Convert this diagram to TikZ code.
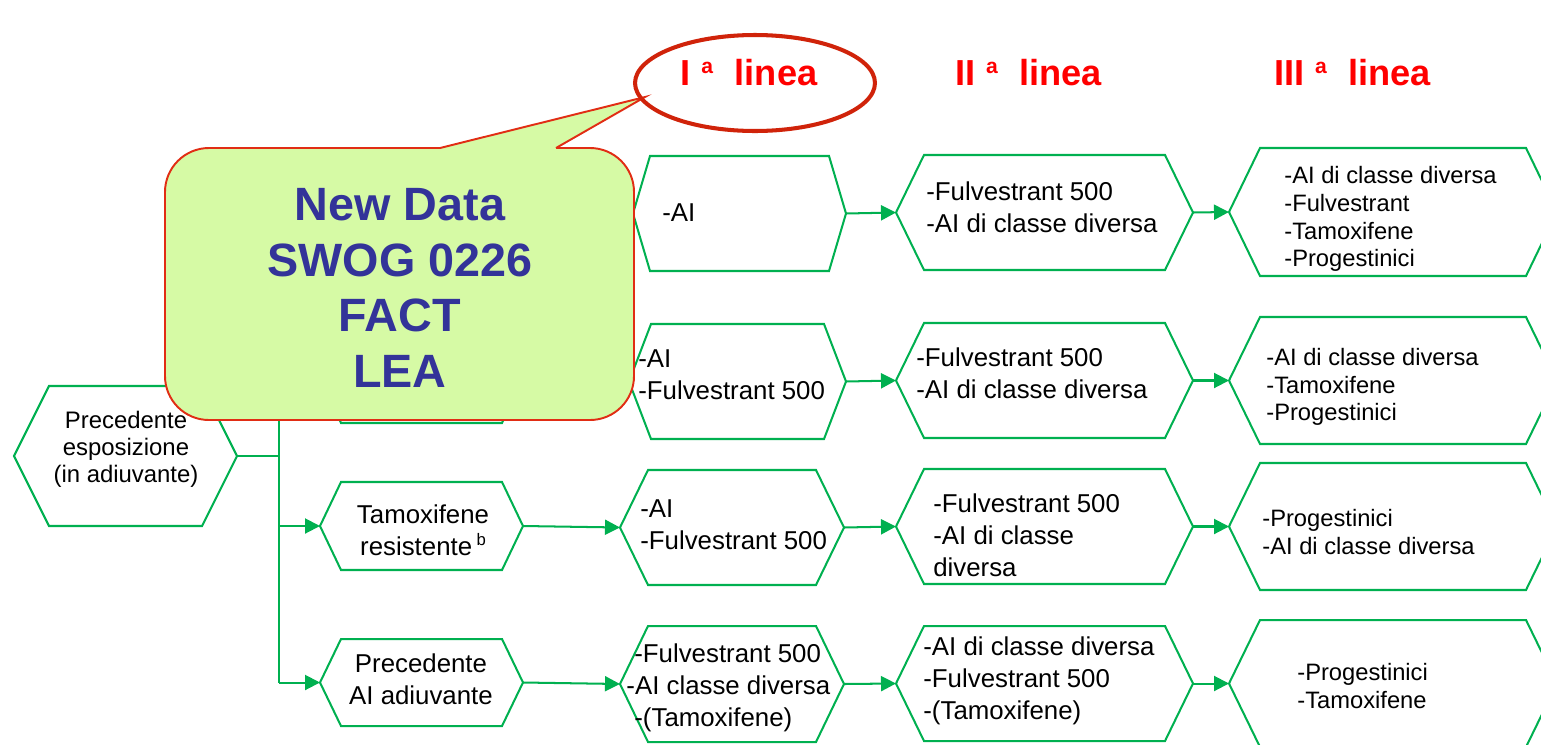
\documentclass[tikz,border=0pt]{standalone}
\usepackage{fontspec}
\setmainfont{Liberation Sans}
\usetikzlibrary{arrows.meta,calc,shapes.geometric}
\definecolor{hexgreen}{RGB}{0,176,80}
\definecolor{titlered}{RGB}{255,0,0}
\definecolor{ellred}{RGB}{208,35,10}
\definecolor{callred}{RGB}{225,45,20}
\definecolor{callfill}{RGB}{214,250,165}
\definecolor{callblue}{RGB}{51,51,153}
\tikzset{
  hexcore/.style={shape=rectangle, inner sep=0pt, outer sep=0pt, draw=none},
  hexline/.style={draw=hexgreen, line width=1.15pt, line join=miter},
  conn/.style={draw=hexgreen, line width=1.15pt},
  arr/.style={conn, -{Triangle[length=0.3cm, width=0.3cm]}},
  bodytxt/.style={font=\fontsize{14.7pt}{18.1pt}\selectfont, align=left, inner sep=0pt, anchor=west},
  smalltxt/.style={font=\fontsize{13.5pt}{15.8pt}\selectfont, align=left, inner sep=0pt, anchor=west},
  condtxt/.style={font=\fontsize{14.7pt}{18.1pt}\selectfont, align=center, inner sep=0pt},
  srctxt/.style={font=\fontsize{13.6pt}{15.3pt}\selectfont, align=center, inner sep=0pt},
  titletxt/.style={font=\fontsize{20.6pt}{24pt}\selectfont\bfseries, text=titlered, anchor=base west, inner sep=0pt},
  calltxt/.style={font=\fontsize{26.6pt}{31.7pt}\selectfont\bfseries, text=callblue, align=center, inner sep=0pt},
  calloutbox/.style={draw=callred, line width=1.1pt, fill=callfill},
  ellbox/.style={ellipse, draw=ellred, line width=2.3pt, inner sep=0pt}
}
\newcommand\hexnode[6]{%
  \node[hexcore, minimum width=#4*0.02cm, minimum height=#5*0.02cm] (#1) at (#2,#3) {};
  \draw[hexline] (#1.west) -- ($(#1.north west)+(#6,0)$) -- ($(#1.north east)+(-#6,0)$) -- (#1.east) -- ($(#1.south east)+(-#6,0)$) -- ($(#1.south west)+(#6,0)$) -- cycle;}
\newcommand\titlesupa{\raisebox{6.8pt}{\fontsize{12pt}{13pt}\selectfont a}}
\newcommand\condsupb{\raisebox{5.5pt}{\fontsize{9.5pt}{10pt}\selectfont b}}
\begin{document}
\begin{tikzpicture}[x=0.02cm, y=-0.02cm]
\useasboundingbox (0,0) rectangle (1541,744);
\clip (0,0) rectangle (1541,744);

% hexagons
\hexnode{src}{125.5}{456}{223}{140}{35}
\hexnode{cA}{421.5}{213}{203}{88}{21}
\hexnode{cB}{421.5}{379}{203}{88}{21}
\hexnode{cC}{421.5}{526}{203}{88}{21}
\hexnode{cD}{421.5}{682.5}{203}{87}{21}
\hexnode{fA}{739.5}{213.5}{213}{115}{17}
\hexnode{fB}{737.5}{381.5}{217}{115}{22}
\hexnode{fC}{732}{527.5}{224}{115}{28}
\hexnode{fD}{732}{684}{224}{116}{28}
\hexnode{sA}{1044.5}{212.5}{297}{115}{28}
\hexnode{sB}{1044.5}{380.5}{297}{115}{28}
\hexnode{sC}{1044.5}{526.5}{297}{115}{28}
\hexnode{sD}{1044.5}{683.5}{297}{115}{28}
\hexnode{tA}{1393}{212}{328}{128}{31}
\hexnode{tB}{1393}{380.5}{328}{127}{31}
\hexnode{tC}{1393}{526.5}{328}{127}{31}
\hexnode{tD}{1393}{683.5}{328}{127}{31}

% texts in hexagons
\node[srctxt] (srcT) at (126,449) {Precedente\\esposizione\\(in adiuvante)};
\node[condtxt] (cCT) at (423,530) {Tamoxifene\\resistente\,\condsupb};
\node[condtxt] (cDT) at (421,679) {Precedente\\AI adiuvante};
\node[bodytxt] (fAT) at (662,213) {-AI};
\node[bodytxt] (fBT) at (638,375) {-AI\\-Fulvestrant 500};
\node[bodytxt] (fCT) at (640,525) {-AI\\-Fulvestrant 500};
\node[bodytxt] (fDT) at (634,688) {-Fulvestrant 500\\\hspace*{-4.5pt}-AI classe diversa\\-(Tamoxifene)};
\node[bodytxt] (sAT) at (926,207) {-Fulvestrant 500\\-AI di classe diversa};
\node[bodytxt] (sBT) at (916,373) {-Fulvestrant 500\\-AI di classe diversa};
\node[bodytxt] (sCT) at (933,535) {-Fulvestrant 500\\-AI di classe\\diversa};
\node[bodytxt] (sDT) at (923,681) {-AI di classe diversa\\-Fulvestrant 500\\-(Tamoxifene)};
\node[smalltxt] (tAT) at (1284,219) {-AI di classe diversa\\-Fulvestrant\\-Tamoxifene\\-Progestinici};
\node[smalltxt] (tBT) at (1266,387) {-AI di classe diversa\\-Tamoxifene\\-Progestinici};
\node[smalltxt] (tCT) at (1262,532) {-Progestinici\\-AI di classe diversa};
\node[smalltxt] (tDT) at (1297,686) {-Progestinici\\-Tamoxifene};

% connectors
\coordinate (brS) at (279,456);
\coordinate (brA) at (279,213);
\coordinate (brD) at (279,683);
\draw[conn] (src.east) -- (brS);
\draw[conn] (brA) -- (brD);
\draw[arr] (brA) -- (cA.west);
\draw[arr] (cB.west -| brA) -- (cB.west);
\draw[arr] (cC.west -| brA) -- (cC.west);
\draw[arr] (cD.west -| brA) -- (cD.west);
\draw[arr] (cA.east) -- (fA.west);
\draw[arr] (cB.east) -- (fB.west);
\draw[arr] (cC.east) -- (fC.west);
\draw[arr] (cD.east) -- (fD.west);
\draw[arr] (fA.east) -- (sA.west);
\draw[arr] (fB.east) -- (sB.west);
\draw[arr] (fC.east) -- (sC.west);
\draw[arr] (fD.east) -- (sD.west);
\draw[arr] (sA.east) -- (tA.west);
\draw[arr] (sB.east) -- (tB.west);
\draw[arr] (sC.east) -- (tC.west);
\draw[arr] (sD.east) -- (tD.west);

% callout
\draw[calloutbox, rounded corners=0.88cm] (165,148) rectangle (634,420);
\fill[callfill] (440,148) -- (645,97) -- (556,148) -- (556,151.5) -- (440,151.5) -- cycle;
\draw[draw=callred, line width=1.1pt, line join=miter] (440,148) -- (645,97) -- (556,148);
\node[calltxt] (cbT) at (400,288) {New Data\\SWOG 0226\\FACT\\LEA};

% titles
\node[ellbox, minimum width=4.8cm, minimum height=1.92cm] (ell) at (755,83) {};
\node[titletxt] (t1) at (680.5,85) {I\hspace{6pt}\titlesupa\hspace{12.3pt}linea};
\node[titletxt] (t2) at (955,85) {II\hspace{6pt}\titlesupa\hspace{12.3pt}linea};
\node[titletxt] (t3) at (1274,85) {III\hspace{6pt}\titlesupa\hspace{12.3pt}linea};
\end{tikzpicture}
\end{document}
